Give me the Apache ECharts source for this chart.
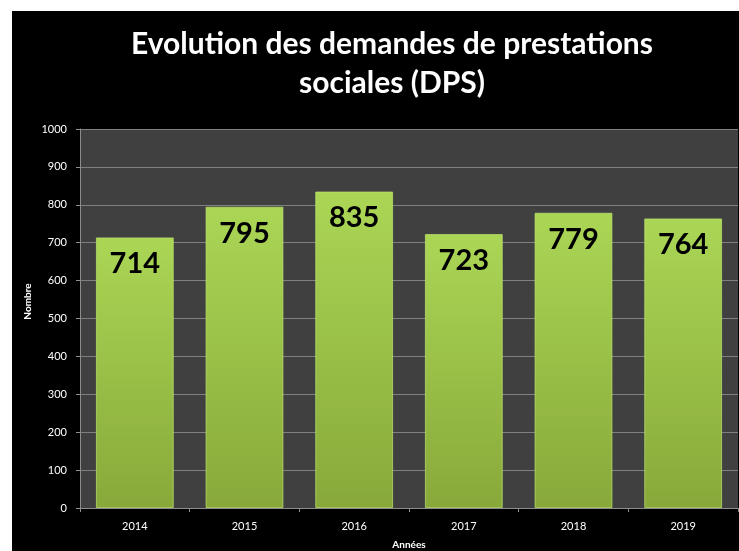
<!DOCTYPE html>
<html>
<head>
<meta charset="utf-8">
<script src="https://cdn.jsdelivr.net/npm/echarts@6/dist/echarts.min.js"></script>
<style>
html,body{margin:0;padding:0;background:#ffffff;width:739px;height:551px;overflow:hidden;}
#chart{position:absolute;left:12px;top:11px;width:727px;height:540px;background:#000;}
</style>
</head>
<body>
<div id="chart"></div>
<script>
const titleText = 'Evolution des demandes de prestations\nsociales (DPS)';
const categories = ['2014', '2015', '2016', '2017', '2018', '2019'];
const values = [714, 795, 835, 723, 779, 764];
const yTicks = { min: 0, max: 1000, interval: 100 };
const xName = 'Années';
const yName = 'Nombre';

const chart = echarts.init(document.getElementById('chart'), null, { renderer: 'canvas' });
chart.setOption({
  backgroundColor: '#000000',
  animation: false,
  title: {
    text: titleText,
    left: 375,
    top: 9,
    textAlign: 'center',
    textStyle: { color: '#ffffff', fontFamily: 'Lato', fontWeight: 'bold', fontSize: 30, lineHeight: 39 }
  },
  grid: {
    left: 68, right: 1, top: 118, bottom: 43,
    show: true, backgroundColor: '#404040', borderWidth: 0,
    containLabel: false,
    outerBoundsMode: 'none'
  },
  xAxis: {
    type: 'category',
    data: categories,
    name: xName,
    nameLocation: 'middle',
    nameGap: 32,
    nameMoveOverlap: false,
    nameTextStyle: { color: '#ffffff', fontFamily: 'Lato', fontWeight: 'bold', fontSize: 10 },
    axisLine: { show: true, lineStyle: { color: '#8c8c8c', width: 1 } },
    axisTick: { show: true, length: 4, alignWithLabel: false, lineStyle: { color: '#8c8c8c' } },
    axisLabel: { color: '#ffffff', fontFamily: 'Lato', fontSize: 11, margin: 13 }
  },
  yAxis: {
    type: 'value',
    min: yTicks.min, max: yTicks.max, interval: yTicks.interval,
    name: yName,
    nameLocation: 'middle',
    nameGap: 47,
    nameMoveOverlap: false,
    nameTextStyle: { color: '#ffffff', fontFamily: 'Lato', fontWeight: 'bold', fontSize: 10, padding: [0, 0, 0, 34] },
    axisLine: { show: true, lineStyle: { color: '#8c8c8c', width: 1 } },
    axisTick: { show: true, length: 4, lineStyle: { color: '#8c8c8c' } },
    axisLabel: { color: '#ffffff', fontFamily: 'Lato', fontSize: 11, margin: 13, formatter: function (v) { return String(v); } },
    splitLine: { show: true, lineStyle: { color: '#808080', width: 1 } }
  },
  series: [{
    type: 'bar',
    data: values,
    barCategoryGap: '29%',
    itemStyle: {
      color: new echarts.graphic.LinearGradient(0, 0, 0, 1, [
        { offset: 0, color: '#abd655' },
        { offset: 1, color: '#88a93a' }
      ]),
      borderColor: 'rgba(190,230,110,0.7)',
      borderWidth: 1
    },
    label: {
      show: true,
      position: 'insideTop',
      distance: 12,
      color: '#000000',
      fontFamily: 'Lato',
      fontWeight: 'bold',
      fontSize: 29
    }
  }]
});
</script>
</body>
</html>
